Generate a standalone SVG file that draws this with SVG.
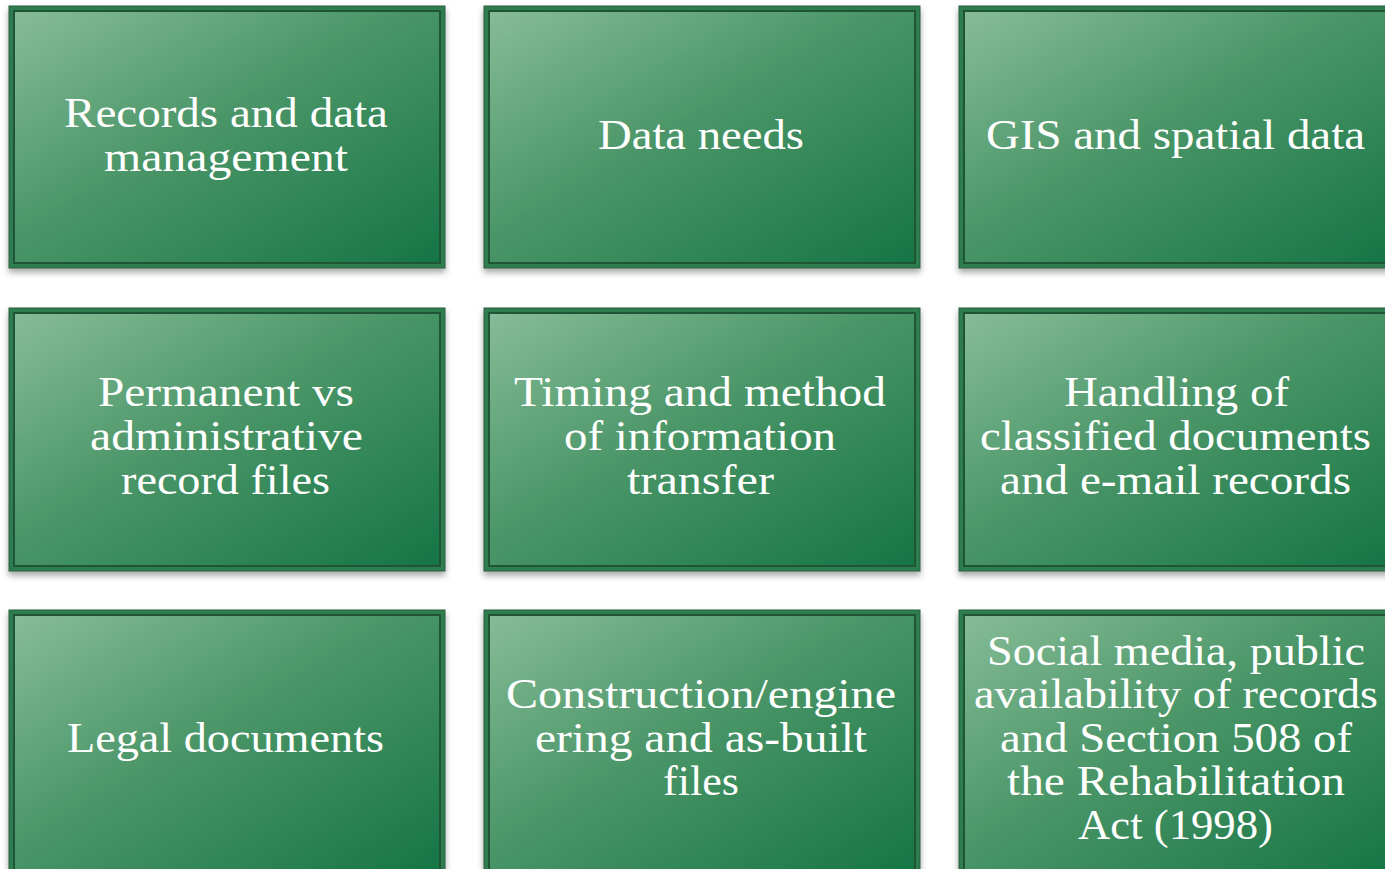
<svg xmlns="http://www.w3.org/2000/svg" width="1385" height="869" viewBox="0 0 1385 869">
<defs>
<linearGradient id="g" x1="0" y1="0" x2="1" y2="1">
<stop offset="0" stop-color="#86bc97"/>
<stop offset="0.45" stop-color="#4b9668"/>
<stop offset="1" stop-color="#157544"/>
</linearGradient>
<filter id="sh" x="-5%" y="-5%" width="110%" height="115%">
<feDropShadow dx="0" dy="4" stdDeviation="3" flood-color="#000" flood-opacity="0.35"/>
</filter>
</defs>
<style>
.o{fill:#2e7d50;stroke:#2a5f3f;stroke-width:1}
.i{fill:url(#g);stroke:#1f5535;stroke-width:2}
.t{font-family:"Liberation Serif","DejaVu Serif",serif;font-size:42px;fill:#fff;text-anchor:middle}
</style>
<rect width="1385" height="869" fill="#fff"/>
<g id="n1"><rect class="o" x="9" y="6" width="436" height="262" filter="url(#sh)"/><rect class="i" x="14" y="11" width="426" height="252"/>
<text class="t" x="226" y="127" textLength="324" lengthAdjust="spacingAndGlyphs">Records and data</text><text class="t" x="226" y="171" textLength="244" lengthAdjust="spacingAndGlyphs">management</text></g>
<g id="n2"><rect class="o" x="484" y="6" width="436" height="262" filter="url(#sh)"/><rect class="i" x="489" y="11" width="426" height="252"/>
<text class="t" x="701" y="149" textLength="206" lengthAdjust="spacingAndGlyphs">Data needs</text></g>
<g id="n3"><rect class="o" x="959" y="6" width="436" height="262" filter="url(#sh)"/><rect class="i" x="964" y="11" width="426" height="252"/>
<text class="t" x="1175.5" y="149" textLength="379" lengthAdjust="spacingAndGlyphs">GIS and spatial data</text></g>
<g id="n4"><rect class="o" x="9" y="308" width="436" height="263" filter="url(#sh)"/><rect class="i" x="14" y="313" width="426" height="253"/>
<text class="t" x="226" y="406" textLength="256" lengthAdjust="spacingAndGlyphs">Permanent vs</text><text class="t" x="226.5" y="450" textLength="273" lengthAdjust="spacingAndGlyphs">administrative</text><text class="t" x="225.5" y="494" textLength="209" lengthAdjust="spacingAndGlyphs">record files</text></g>
<g id="n5"><rect class="o" x="484" y="308" width="436" height="263" filter="url(#sh)"/><rect class="i" x="489" y="313" width="426" height="253"/>
<text class="t" x="700" y="406" textLength="372" lengthAdjust="spacingAndGlyphs">Timing and method</text><text class="t" x="700" y="450" textLength="272" lengthAdjust="spacingAndGlyphs">of information</text><text class="t" x="700.5" y="494" textLength="147" lengthAdjust="spacingAndGlyphs">transfer</text></g>
<g id="n6"><rect class="o" x="959" y="308" width="436" height="263" filter="url(#sh)"/><rect class="i" x="964" y="313" width="426" height="253"/>
<text class="t" x="1176.5" y="406" textLength="225" lengthAdjust="spacingAndGlyphs">Handling of</text><text class="t" x="1175.5" y="450" textLength="391" lengthAdjust="spacingAndGlyphs">classified documents</text><text class="t" x="1175.5" y="494" textLength="351" lengthAdjust="spacingAndGlyphs">and e-mail records</text></g>
<g id="n7"><rect class="o" x="9" y="610" width="436" height="270" filter="url(#sh)"/><rect class="i" x="14" y="615" width="426" height="260"/>
<text class="t" x="225.5" y="752" textLength="317" lengthAdjust="spacingAndGlyphs">Legal documents</text></g>
<g id="n8"><rect class="o" x="484" y="610" width="436" height="270" filter="url(#sh)"/><rect class="i" x="489" y="615" width="426" height="260"/>
<text class="t" x="701" y="708" textLength="390" lengthAdjust="spacingAndGlyphs">Construction/engine</text><text class="t" x="701" y="752" textLength="332" lengthAdjust="spacingAndGlyphs">ering and as-built</text><text class="t" x="701" y="795" textLength="76" lengthAdjust="spacingAndGlyphs">files</text></g>
<g id="n9"><rect class="o" x="959" y="610" width="436" height="270" filter="url(#sh)"/><rect class="i" x="964" y="615" width="426" height="260"/>
<text class="t" x="1176" y="665" textLength="378" lengthAdjust="spacingAndGlyphs">Social media, public</text><text class="t" x="1176" y="708" textLength="404" lengthAdjust="spacingAndGlyphs">availability of records</text><text class="t" x="1176" y="752" textLength="352" lengthAdjust="spacingAndGlyphs">and Section 508 of</text><text class="t" x="1176" y="795" textLength="338" lengthAdjust="spacingAndGlyphs">the Rehabilitation</text><text class="t" x="1175.5" y="839" textLength="195" lengthAdjust="spacingAndGlyphs">Act (1998)</text></g>
<g id="connectors"/>
</svg>
